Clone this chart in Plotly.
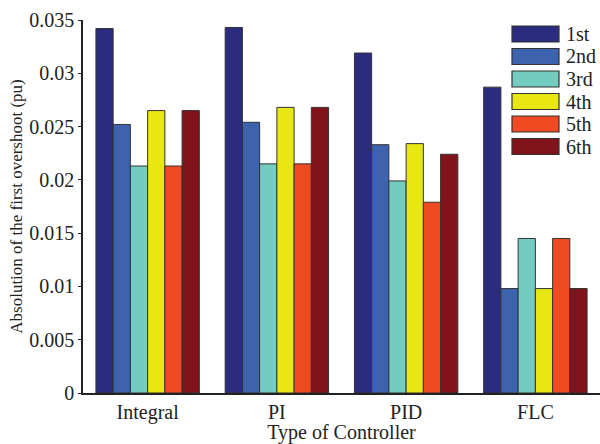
import plotly.graph_objects as go

controllers = ["Integral", "PI", "PID", "FLC"]
series_names = ["1st", "2nd", "3rd", "4th", "5th", "6th"]
overshoot_1st = [0.0342, 0.0343, 0.0319, 0.0287]
overshoot_2nd = [0.0252, 0.0254, 0.0233, 0.0098]
overshoot_3rd = [0.0213, 0.0215, 0.0199, 0.0145]
overshoot_4th = [0.0265, 0.0268, 0.0234, 0.0098]
overshoot_5th = [0.0213, 0.0215, 0.0179, 0.0145]
overshoot_6th = [0.0265, 0.0268, 0.0224, 0.0098]
y_ticks = [0, 0.005, 0.01, 0.015, 0.02, 0.025, 0.03, 0.035]
y_tick_labels = ["0", "0.005", "0.01", "0.015", "0.02", "0.025", "0.03", "0.035"]

series_values = [overshoot_1st, overshoot_2nd, overshoot_3rd,
                 overshoot_4th, overshoot_5th, overshoot_6th]
colors = ["#2b2b7f", "#3d62ae", "#73cbc1", "#e8e613", "#f04a23", "#80141a"]
outline = "#333333"
FONT = "Liberation Serif"

fig = go.Figure()
for name, vals, col in zip(series_names, series_values, colors):
    fig.add_trace(go.Bar(x=controllers, y=vals, name=name,
                         marker=dict(color=col, line=dict(color=outline, width=1)),
                         showlegend=False))

# custom legend (wide swatches like the original)
L, W, T, H = 83, 517, 20, 373
def px(x): return (x - L) / W
def py(y): return (393 - y) / H
for i, (name, col) in enumerate(zip(series_names, colors)):
    cy = 34 + i * 22.5
    fig.add_shape(type="rect", xref="paper", yref="paper",
                  x0=px(512), x1=px(559), y0=py(cy + 8), y1=py(cy - 8),
                  fillcolor=col, line=dict(color=outline, width=1.2))
    fig.add_annotation(xref="paper", yref="paper", x=px(564), y=py(cy),
                       text=name, showarrow=False, xanchor="left", yanchor="middle",
                       font=dict(family=FONT, size=20, color="#222"))

fig.update_layout(
    width=600, height=444,
    margin=dict(l=83, r=0, t=20, b=51),
    paper_bgcolor="white", plot_bgcolor="white",
    barmode="group", bargap=0.2, bargroupgap=0,
    font=dict(family=FONT, color="#222"),
    xaxis=dict(showline=True, linecolor="#222", linewidth=1.5, ticks="",
               tickfont=dict(size=20, family=FONT),
               title=dict(text="Type of Controller", font=dict(size=20, family=FONT), standoff=3),
               range=[-0.5, 3.5]),
    yaxis=dict(showline=True, linecolor="#222", linewidth=1.5, ticks="outside", ticklen=3,
               tickcolor="#222", range=[0, 0.035], tickvals=y_ticks, ticktext=y_tick_labels,
               showgrid=False, zeroline=False,
               tickfont=dict(size=20, family=FONT),
               title=dict(text="Absolution of the first overshoot (pu)",
                          font=dict(size=17, family=FONT), standoff=2)),
)
fig.write_html("out.html")
